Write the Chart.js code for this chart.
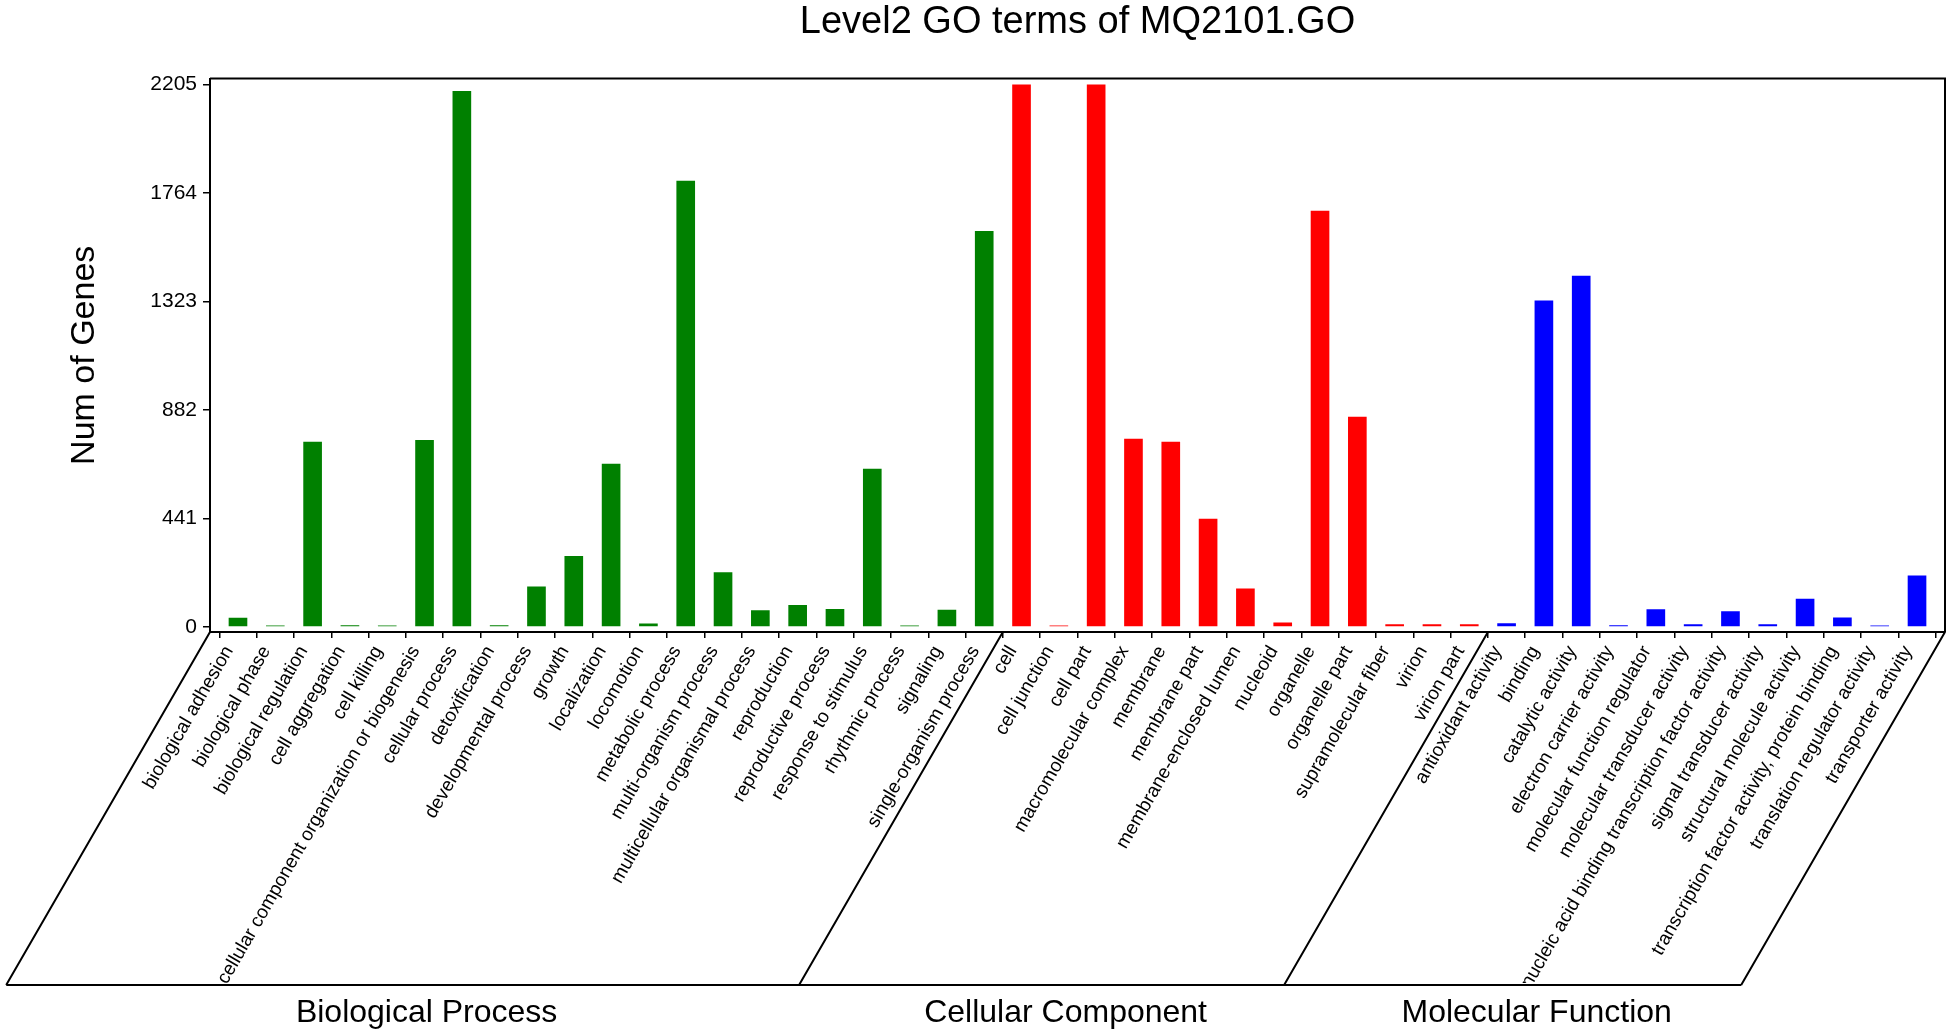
<!DOCTYPE html>
<html>
<head>
<meta charset="utf-8">
<script src="https://cdn.jsdelivr.net/npm/chart.js@4.4.1/dist/chart.umd.min.js"></script>
<style>
  html, body { margin: 0; padding: 0; background: #fff; }
</style>
</head>
<body>
<canvas id="go_chart" width="1947" height="1033"></canvas>
<script>
// level 2 GO terms, counts
const bpTerms = ["biological adhesion", "biological phase", "biological regulation", "cell aggregation",
  "cell killing", "cellular component organization or biogenesis", "cellular process", "detoxification",
  "developmental process", "growth", "localization", "locomotion", "metabolic process",
  "multi-organism process", "multicellular organismal process", "reproduction", "reproductive process",
  "response to stimulus", "rhythmic process", "signaling", "single-organism process"];
const bpCounts = [38, 3, 753, 7, 3, 760, 2179, 7, 165, 289, 664, 15, 1814, 223, 68, 90, 73, 643, 3, 70, 1610];

const ccTerms = ["cell", "cell junction", "cell part", "macromolecular complex", "membrane", "membrane part",
  "membrane-enclosed lumen", "nucleoid", "organelle", "organelle part", "supramolecular fiber", "virion", "virion part"];
const ccCounts = [2205, 3, 2205, 765, 753, 440, 157, 19, 1692, 855, 12, 12, 12];

const mfTerms = ["antioxidant activity", "binding", "catalytic activity", "electron carrier activity",
  "molecular function regulator", "molecular transducer activity",
  "nucleic acid binding transcription factor activity", "signal transducer activity",
  "structural molecule activity", "transcription factor activity, protein binding",
  "translation regulator activity", "transporter activity"];
const mfCounts = [16, 1327, 1428, 7, 72, 11, 64, 12, 115, 39, 3, 210];

const yTicks = [0, 441, 882, 1323, 1764, 2205];
const groupNames = ["Biological Process", "Cellular Component", "Molecular Function"];
const groupColors = ["#008000", "#ff0000", "#0000ff"];

const allTerms = bpTerms.concat(ccTerms, mfTerms);
const FONT = "'Liberation Sans', Arial, Helvetica, sans-serif";

function toPoints(counts, start) {
  return counts.map((v, i) => ({ x: start + i, y: v }));
}

// box top/right, the slanted group frames and the group names
const goFrame = {
  id: "goFrame",
  afterDraw(chart) {
    const c = chart.ctx, a = chart.chartArea, xs = chart.scales.x;
    const bottomY = 985;
    const drop = (bottomY - a.bottom) / Math.tan(60 * Math.PI / 180);
    const n1 = bpTerms.length, n2 = n1 + ccTerms.length;
    const edges = [a.left, xs.getPixelForValue(n1 - 0.5), xs.getPixelForValue(n2 - 0.5), a.right];

    c.save();
    c.strokeStyle = "#000";
    c.lineWidth = 2;
    c.beginPath();
    c.moveTo(a.left, a.top);
    c.lineTo(a.right, a.top);
    c.lineTo(a.right, a.bottom);
    edges.forEach(x => { c.moveTo(x, a.bottom); c.lineTo(x - drop, bottomY); });
    c.moveTo(edges[0] - drop, bottomY);
    c.lineTo(edges[3] - drop, bottomY);
    c.stroke();

    c.fillStyle = "#000";
    c.font = "32px " + FONT;
    c.textAlign = "center";
    c.textBaseline = "middle";
    groupNames.forEach((g, i) => {
      const mid = (edges[i] + edges[i + 1]) / 2 - drop;
      c.fillText(g, mid + 24, bottomY + 28);
    });
    c.restore();
  }
};

const chart1 = document.querySelector("#go_chart").getContext("2d");

new Chart(chart1, {
  type: "bar",
  data: {
    datasets: [
      { label: groupNames[0], data: toPoints(bpCounts, 0), backgroundColor: groupColors[0] },
      { label: groupNames[1], data: toPoints(ccCounts, bpTerms.length), backgroundColor: groupColors[1] },
      { label: groupNames[2], data: toPoints(mfCounts, bpTerms.length + ccTerms.length), backgroundColor: groupColors[2] }
    ]
  },
  options: {
    responsive: false,
    animation: false,
    devicePixelRatio: 1,
    layout: { padding: { left: 0, right: 2, top: 0, bottom: 50 } },
    datasets: { bar: { grouped: false, barPercentage: 1, categoryPercentage: 0.5, minBarLength: 1.5 } },
    plugins: {
      legend: { display: false },
      tooltip: { enabled: false },
      title: {
        display: true,
        text: "Level2 GO terms of MQ2101.GO",
        fullSize: false,
        color: "#000",
        font: { family: FONT, size: 38, weight: "normal" },
        padding: { top: 0, bottom: 33 }
      }
    },
    scales: {
      x: {
        type: "linear",
        offset: false,
        min: -0.75,
        max: allTerms.length - 0.25,
        afterBuildTicks: s => { s.ticks = allTerms.map((t, i) => ({ value: i })); },
        afterFit: s => { s.height = 351; },
        grid: { drawOnChartArea: false, drawTicks: true, tickLength: 6, color: "#000", lineWidth: 1.5 },
        border: { display: true, color: "#000", width: 2 },
        ticks: {
          autoSkip: false,
          minRotation: 60,
          maxRotation: 60,
          padding: 4,
          labelOffset: -9,
          color: "#000",
          font: { family: FONT, size: 19 },
          callback: v => allTerms[v]
        }
      },
      y: {
        min: -20,
        max: 2229,
        afterBuildTicks: s => { s.ticks = yTicks.map(v => ({ value: v })); },
        afterFit: s => { s.width = 210; },
        grid: { drawOnChartArea: false, tickLength: 7, color: "#000", lineWidth: 1.5 },
        border: { display: true, color: "#000", width: 2 },
        ticks: { padding: 6, color: "#000", font: { family: FONT, size: 21 }, callback: v => String(v) },
        title: {
          display: true,
          text: "Num of Genes",
          color: "#000",
          font: { family: FONT, size: 34 },
          padding: { top: 64, bottom: 0 }
        }
      }
    }
  },
  plugins: [goFrame]
});
</script>
</body>
</html>
